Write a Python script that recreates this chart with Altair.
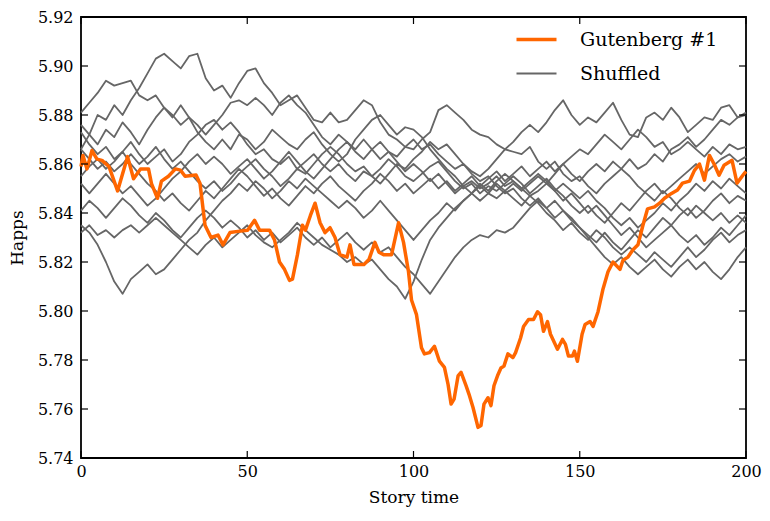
import altair as alt
import pandas as pd

# ---------------- data ----------------
orange_x = [0, 0.6, 1.8, 3.3, 4.8, 6.3, 8.4, 11.0, 14.0, 15.8, 17.9, 20.3, 21.2, 23.0, 24.2,
            26.3, 28.4, 29.9, 31.3, 34.6, 35.8, 37.3, 39.1, 41.2, 42.7, 44.8, 47.2, 50.1,
            52.2, 53.7, 56.7, 58.2, 59.7, 61.2, 62.7, 63.6, 65.1, 66.6, 67.5, 69.0, 70.4,
            71.9, 73.4, 74.9, 76.4, 77.9, 80.0, 80.9, 82.1, 83.6, 85.1, 86.6, 88.4, 89.6,
            91.0, 93.4, 95.5, 97.0, 98.5, 99.4, 100.9, 102.4, 103.3, 104.8, 106.3, 107.8,
            109.3, 110.4, 111.3, 112.2, 113.4, 114.3, 115.8, 116.7, 117.9, 119.4, 120.3,
            121.2, 122.4, 123.3, 124.2, 125.4, 126.3, 127.2, 128.4, 129.9, 130.7, 132.2,
            133.1, 134.6, 136.1, 137.3, 138.2, 139.1, 140.3, 141.2, 143.3, 144.8, 145.7,
            146.6, 147.8, 148.4, 149.3, 150.7, 151.6, 153.1, 154.0, 155.5, 157.0, 158.5,
            160.0, 162.1, 163.0, 164.5, 166.0, 167.5, 169.0, 170.4, 172.5, 174.0, 175.5,
            177.6, 179.4, 180.9, 183.0, 184.5, 186.0, 187.5, 189.0, 190.4, 191.9, 193.4,
            195.8, 197.3, 199.4, 200]
orange_y = [5.859, 5.8635, 5.858, 5.8655, 5.862, 5.8615, 5.859, 5.849, 5.863, 5.854, 5.858,
            5.858, 5.852, 5.846, 5.853, 5.855, 5.858, 5.8575, 5.855, 5.8555, 5.852, 5.835,
            5.830, 5.831, 5.827, 5.832, 5.8325, 5.833, 5.837, 5.833, 5.833, 5.829, 5.820,
            5.817, 5.8125, 5.813, 5.823, 5.835, 5.833, 5.839, 5.844, 5.836, 5.832, 5.834,
            5.830, 5.823, 5.822, 5.827, 5.819, 5.819, 5.819, 5.821, 5.828, 5.824, 5.823,
            5.823, 5.836, 5.828, 5.816, 5.8045, 5.7985, 5.785, 5.7825, 5.783, 5.7856,
            5.7795, 5.777, 5.770, 5.762, 5.764, 5.7735, 5.775, 5.7695, 5.766, 5.7606,
            5.7525, 5.7533, 5.762, 5.7646, 5.7614, 5.7695, 5.774, 5.7767, 5.7775, 5.7825,
            5.781, 5.783, 5.789, 5.7937, 5.7965, 5.7965, 5.7997, 5.7985, 5.7917, 5.7957,
            5.7905, 5.7844, 5.7884, 5.7864, 5.7816, 5.7816, 5.7836, 5.7795, 5.7905,
            5.7945, 5.7957, 5.7937, 5.7997, 5.809, 5.816, 5.820, 5.817, 5.8207, 5.822,
            5.825, 5.827, 5.835, 5.8417, 5.8425, 5.844, 5.846, 5.848, 5.8494, 5.8522,
            5.853, 5.8574, 5.860, 5.8534, 5.8635, 5.860, 5.8554, 5.8595, 5.8615, 5.8522,
            5.856, 5.857]

gray_x = [0, 2.5, 5, 7.5, 10, 12.5, 15, 17.5, 20, 22.5, 25, 27.5, 30, 32.5, 35, 37.5,
          40, 42.5, 45, 47.5, 50, 52.5, 55, 57.5, 60, 62.5, 65, 67.5, 70, 72.5, 75, 77.5,
          80, 82.5, 85, 87.5, 90, 92.5, 95, 97.5, 100, 102.5, 105, 107.5, 110, 112.5, 115,
          117.5, 120, 122.5, 125, 127.5, 130, 132.5, 135, 137.5, 140, 142.5, 145, 147.5,
          150, 152.5, 155, 157.5, 160, 162.5, 165, 167.5, 170, 172.5, 175, 177.5, 180,
          182.5, 185, 187.5, 190, 192.5, 195, 197.5, 200]

shuf1 = [5.866, 5.872, 5.880, 5.878, 5.884, 5.880, 5.886, 5.891, 5.897, 5.903, 5.905, 5.902,
         5.899, 5.904, 5.905, 5.895, 5.890, 5.892, 5.887, 5.893, 5.898, 5.899, 5.893, 5.889,
         5.884, 5.886, 5.888, 5.883, 5.878, 5.877, 5.881, 5.877, 5.878, 5.882, 5.886, 5.884,
         5.877, 5.872, 5.870, 5.867, 5.866, 5.870, 5.873, 5.882, 5.884, 5.881, 5.878, 5.874,
         5.872, 5.871, 5.868, 5.866, 5.865, 5.864, 5.867, 5.861, 5.858, 5.861, 5.856, 5.853,
         5.855, 5.851, 5.848, 5.852, 5.855, 5.858, 5.862, 5.858, 5.860, 5.864, 5.861, 5.866,
         5.868, 5.871, 5.867, 5.870, 5.874, 5.878, 5.876, 5.879, 5.880]
shuf2 = [5.881, 5.885, 5.889, 5.894, 5.892, 5.893, 5.894, 5.888, 5.886, 5.888, 5.883, 5.879,
         5.884, 5.879, 5.876, 5.872, 5.876, 5.880, 5.885, 5.886, 5.884, 5.887, 5.884, 5.880,
         5.885, 5.888, 5.884, 5.881, 5.876, 5.871, 5.868, 5.872, 5.869, 5.866, 5.870, 5.866,
         5.862, 5.865, 5.863, 5.867, 5.870, 5.866, 5.868, 5.864, 5.861, 5.858, 5.860, 5.857,
         5.855, 5.858, 5.862, 5.866, 5.869, 5.873, 5.876, 5.873, 5.877, 5.882, 5.886, 5.880,
         5.876, 5.879, 5.877, 5.881, 5.885, 5.878, 5.872, 5.871, 5.879, 5.881, 5.878, 5.883,
         5.879, 5.873, 5.876, 5.879, 5.878, 5.883, 5.884, 5.879, 5.881]
shuf3 = [5.876, 5.872, 5.868, 5.874, 5.871, 5.877, 5.873, 5.868, 5.874, 5.879, 5.883, 5.880,
         5.876, 5.879, 5.873, 5.869, 5.866, 5.870, 5.866, 5.872, 5.870, 5.866, 5.869, 5.874,
         5.871, 5.868, 5.866, 5.870, 5.873, 5.868, 5.864, 5.861, 5.864, 5.870, 5.874, 5.878,
         5.880, 5.876, 5.872, 5.875, 5.874, 5.871, 5.866, 5.862, 5.858, 5.855, 5.851, 5.853,
         5.850, 5.852, 5.855, 5.851, 5.853, 5.850, 5.847, 5.849, 5.852, 5.856, 5.860, 5.863,
         5.866, 5.864, 5.868, 5.872, 5.869, 5.866, 5.870, 5.874, 5.871, 5.867, 5.869, 5.864,
         5.866, 5.869, 5.866, 5.863, 5.867, 5.864, 5.868, 5.866, 5.867]
shuf4 = [5.873, 5.868, 5.864, 5.867, 5.862, 5.865, 5.869, 5.864, 5.860, 5.863, 5.866, 5.861,
         5.864, 5.869, 5.872, 5.876, 5.878, 5.874, 5.877, 5.873, 5.868, 5.864, 5.866, 5.862,
         5.860, 5.863, 5.858, 5.861, 5.864, 5.860, 5.857, 5.860, 5.856, 5.853, 5.857, 5.855,
         5.852, 5.856, 5.860, 5.858, 5.862, 5.865, 5.869, 5.866, 5.868, 5.864, 5.860, 5.856,
         5.853, 5.855, 5.851, 5.848, 5.850, 5.846, 5.843, 5.846, 5.842, 5.838, 5.841, 5.837,
         5.834, 5.831, 5.828, 5.832, 5.828, 5.825, 5.829, 5.833, 5.830, 5.834, 5.838, 5.835,
         5.839, 5.842, 5.838, 5.841, 5.845, 5.848, 5.844, 5.847, 5.845]
shuf5 = [5.866, 5.862, 5.858, 5.861, 5.857, 5.860, 5.864, 5.860, 5.863, 5.867, 5.862, 5.858,
         5.861, 5.857, 5.853, 5.850, 5.853, 5.849, 5.852, 5.856, 5.859, 5.862, 5.858, 5.855,
         5.851, 5.854, 5.858, 5.856, 5.860, 5.864, 5.867, 5.864, 5.860, 5.857, 5.859, 5.855,
         5.858, 5.862, 5.859, 5.855, 5.853, 5.856, 5.859, 5.861, 5.857, 5.853, 5.850, 5.852,
         5.848, 5.851, 5.849, 5.852, 5.855, 5.852, 5.848, 5.851, 5.854, 5.850, 5.847, 5.843,
         5.840, 5.843, 5.839, 5.836, 5.840, 5.844, 5.841, 5.845, 5.849, 5.852, 5.848, 5.851,
         5.854, 5.857, 5.860, 5.856, 5.859, 5.862, 5.864, 5.861, 5.863]
shuf6 = [5.855, 5.859, 5.862, 5.858, 5.861, 5.865, 5.860, 5.856, 5.852, 5.849, 5.845, 5.848,
         5.844, 5.841, 5.845, 5.849, 5.846, 5.850, 5.854, 5.858, 5.855, 5.851, 5.847, 5.850,
         5.846, 5.843, 5.847, 5.851, 5.848, 5.852, 5.855, 5.851, 5.848, 5.845, 5.849, 5.852,
         5.856, 5.853, 5.849, 5.852, 5.848, 5.851, 5.854, 5.850, 5.853, 5.849, 5.852, 5.855,
         5.851, 5.854, 5.857, 5.853, 5.856, 5.859, 5.855, 5.858, 5.861, 5.857, 5.860, 5.856,
         5.853, 5.857, 5.860, 5.857, 5.861, 5.858, 5.855, 5.851, 5.848, 5.845, 5.849, 5.846,
         5.842, 5.839, 5.843, 5.840, 5.837, 5.840, 5.836, 5.839, 5.836]
shuf7 = [5.852, 5.848, 5.852, 5.856, 5.852, 5.848, 5.851, 5.847, 5.843, 5.846, 5.850, 5.854,
         5.857, 5.861, 5.864, 5.860, 5.863, 5.860, 5.856, 5.859, 5.862, 5.858, 5.854, 5.857,
         5.861, 5.865, 5.861, 5.857, 5.854, 5.858, 5.862, 5.866, 5.869, 5.865, 5.862, 5.866,
         5.869, 5.865, 5.861, 5.857, 5.860, 5.857, 5.853, 5.856, 5.852, 5.848, 5.851, 5.848,
         5.845, 5.848, 5.852, 5.849, 5.846, 5.843, 5.847, 5.844, 5.840, 5.837, 5.833, 5.836,
         5.832, 5.829, 5.833, 5.830, 5.826, 5.823, 5.826, 5.823, 5.820, 5.824, 5.821, 5.818,
         5.822, 5.826, 5.822, 5.825, 5.829, 5.832, 5.828, 5.831, 5.833]
shuf8 = [5.841, 5.845, 5.842, 5.838, 5.842, 5.846, 5.843, 5.839, 5.836, 5.840, 5.837, 5.833,
         5.830, 5.834, 5.838, 5.841, 5.838, 5.834, 5.837, 5.834, 5.830, 5.833, 5.829, 5.832,
         5.828, 5.831, 5.834, 5.830, 5.827, 5.830, 5.826, 5.829, 5.832, 5.828, 5.825, 5.828,
         5.824, 5.826, 5.822, 5.818, 5.815, 5.811, 5.807, 5.812, 5.817, 5.822, 5.826, 5.829,
         5.831, 5.830, 5.833, 5.832, 5.834, 5.838, 5.842, 5.845, 5.842, 5.845, 5.841, 5.838,
         5.834, 5.830, 5.826, 5.822, 5.819, 5.822, 5.818, 5.815, 5.818, 5.821, 5.817, 5.814,
         5.818, 5.821, 5.817, 5.820, 5.816, 5.813, 5.817, 5.822, 5.826]
shuf9 = [5.835, 5.832, 5.827, 5.820, 5.812, 5.807, 5.813, 5.816, 5.819, 5.815, 5.817, 5.821,
         5.825, 5.829, 5.832, 5.837, 5.841, 5.845, 5.848, 5.852, 5.849, 5.853, 5.850, 5.846,
         5.849, 5.853, 5.850, 5.854, 5.851, 5.848, 5.845, 5.842, 5.845, 5.842, 5.838, 5.841,
         5.845, 5.841, 5.837, 5.833, 5.829, 5.833, 5.837, 5.840, 5.844, 5.841, 5.845, 5.848,
         5.851, 5.848, 5.846, 5.849, 5.852, 5.849, 5.852, 5.855, 5.852, 5.849, 5.852, 5.849,
         5.846, 5.849, 5.845, 5.842, 5.838, 5.835, 5.838, 5.834, 5.837, 5.840, 5.844, 5.841,
         5.845, 5.848, 5.852, 5.849, 5.853, 5.850, 5.854, 5.851, 5.848]
shuf10 = [5.832, 5.835, 5.831, 5.833, 5.830, 5.833, 5.835, 5.832, 5.835, 5.838, 5.835, 5.832,
          5.829, 5.826, 5.823, 5.827, 5.830, 5.826, 5.829, 5.832, 5.835, 5.831, 5.828, 5.826,
          5.829, 5.832, 5.836, 5.833, 5.830, 5.827, 5.825, 5.823, 5.820, 5.822, 5.819, 5.821,
          5.817, 5.813, 5.810, 5.805, 5.812, 5.821, 5.829, 5.834, 5.838, 5.842, 5.845, 5.848,
          5.852, 5.849, 5.853, 5.856, 5.853, 5.850, 5.853, 5.856, 5.853, 5.849, 5.845, 5.848,
          5.844, 5.840, 5.843, 5.839, 5.835, 5.831, 5.834, 5.830, 5.826, 5.829, 5.832, 5.835,
          5.831, 5.828, 5.831, 5.827, 5.830, 5.834, 5.831, 5.835, 5.839]

shuffled = [shuf1, shuf2, shuf3, shuf4, shuf5, shuf6, shuf7, shuf8, shuf9, shuf10]

x_ticks = [0, 50, 100, 150, 200]
y_ticks = [5.74, 5.76, 5.78, 5.80, 5.82, 5.84, 5.86, 5.88, 5.90, 5.92]
series_names = ["Gutenberg #1", "Shuffled"]

# ---------------- tables ----------------
rows = []
for k, ys in enumerate(shuffled):
    for xv, yv in zip(gray_x, ys):
        rows.append({"t": xv, "h": yv, "series": "Shuffled", "id": k})
gray_df = pd.DataFrame(rows)
orange_df = pd.DataFrame({"t": orange_x, "h": orange_y, "series": "Gutenberg #1", "id": 99})
xt_df = pd.DataFrame({"v": x_ticks})
yt_df = pd.DataFrame({"v": y_ticks})

W, H = 665, 441
FONT = "DejaVu Serif"

xscale = alt.Scale(domain=[0, 200], nice=False, zero=False)
yscale = alt.Scale(domain=[5.74, 5.92], nice=False, zero=False)

xaxis = alt.Axis(values=x_ticks, title="Story time", grid=False, ticks=False, domain=False,
                 labelFont=FONT, labelFontSize=16, labelColor="black", labelPadding=5,
                 titleFont=FONT, titleFontSize=17, titleFontWeight="normal",
                 titleColor="black", titlePadding=10, labelFlush=False)
yaxis = alt.Axis(values=y_ticks, format=".2f", title="Happs", grid=False, ticks=False,
                 domain=False, labelFont=FONT, labelFontSize=16, labelColor="black",
                 labelPadding=8, titleFont=FONT, titleFontSize=17,
                 titleFontWeight="normal", titleColor="black", titlePadding=11,
                 labelFlush=False)

color = alt.Color(
    "series:N",
    scale=alt.Scale(domain=series_names, range=["#ff6600", "#666666"]),
    legend=alt.Legend(
        title=None, orient="none", legendX=446, legendY=13, symbolType="stroke",
        symbolSize=1600,
        symbolStrokeWidth={"expr": "datum.value === 'Gutenberg #1' ? 3.5 : 1.8"},
        labelFont=FONT, labelFontSize=19,
        labelColor="black", labelOffset=34, rowPadding=14,
    ),
)

gray = alt.Chart(gray_df).mark_line(strokeWidth=1.8, strokeJoin="round").encode(
    x=alt.X("t:Q", scale=xscale, axis=xaxis),
    y=alt.Y("h:Q", scale=yscale, axis=yaxis),
    color=color,
    detail="id:N",
)
orange = alt.Chart(orange_df).mark_line(strokeWidth=3.5, strokeJoin="round").encode(
    x=alt.X("t:Q", scale=xscale),
    y=alt.Y("h:Q", scale=yscale),
    color=color,
)

TL = 7
tick_style = dict(color="black", strokeWidth=1.2)
xb = alt.Chart(xt_df).mark_rule(**tick_style).encode(
    x=alt.X("v:Q", scale=xscale), y=alt.value(H), y2=alt.value(H - TL))
xtp = alt.Chart(xt_df).mark_rule(**tick_style).encode(
    x=alt.X("v:Q", scale=xscale), y=alt.value(0), y2=alt.value(TL))
yl = alt.Chart(yt_df).mark_rule(**tick_style).encode(
    y=alt.Y("v:Q", scale=yscale), x=alt.value(0), x2=alt.value(TL))
yr = alt.Chart(yt_df).mark_rule(**tick_style).encode(
    y=alt.Y("v:Q", scale=yscale), x=alt.value(W), x2=alt.value(W - TL))

chart = alt.layer(gray, orange, xb, xtp, yl, yr).properties(
    width=W, height=H,
    autosize=alt.AutoSizeParams(type="none"),
    padding={"left": 73, "top": 9, "right": 16, "bottom": 50},
    background="white",
).configure_view(stroke="black", strokeWidth=1.8)

chart.save("out.html", embed_options={"renderer": "svg", "actions": False})
